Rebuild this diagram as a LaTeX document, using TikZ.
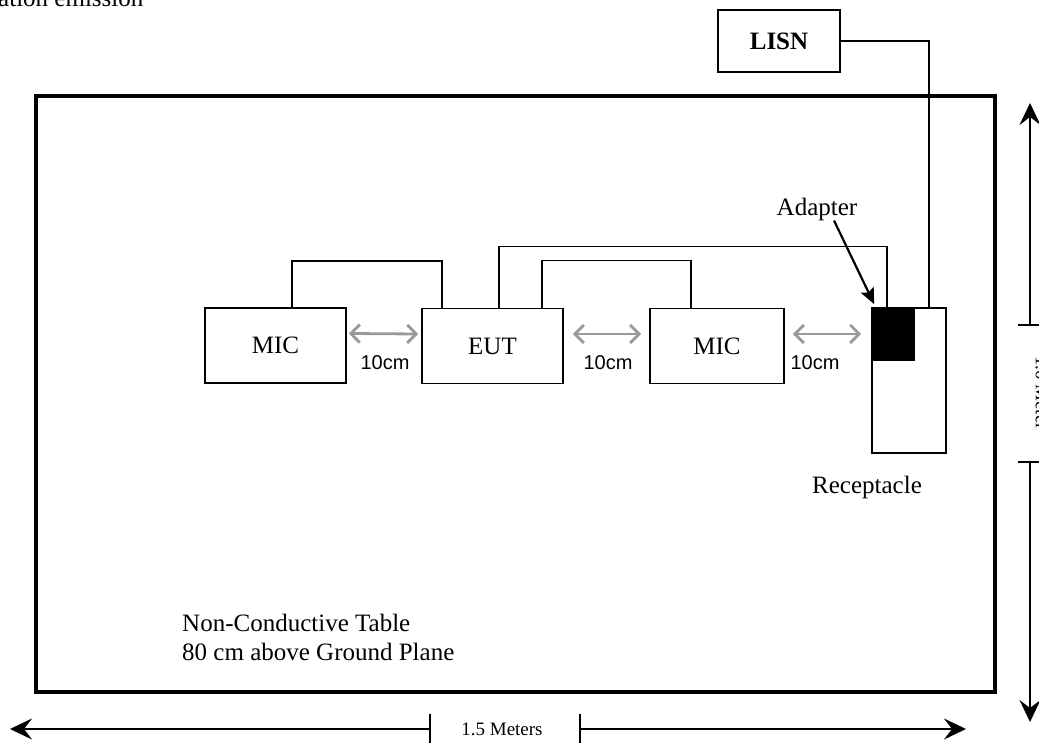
\documentclass[tikz,border=0pt]{standalone}
\usepackage{fontspec}
\setmainfont{Liberation Serif}
\newfontfamily\arialfont{Liberation Sans}
\usetikzlibrary{arrows.meta}

\begin{document}
\begin{tikzpicture}
  [x=1pt,y=-1pt,
  every node/.style={font=\fontsize{25}{29}\selectfont,inner sep=0pt},
  box/.style={draw,line width=1.6pt,minimum width=141pt,minimum height=75pt},
  cable/.style={line width=1.6pt},
  gap/.style={draw=black!40,line width=2.8pt,{Straight Barb[length=9pt,width=18pt]}-{Straight Barb[length=9pt,width=18pt]}},
  small/.style={font=\arialfont\fontsize{20}{24}\selectfont},
  pointer/.style={line width=2.2pt,-{Stealth[length=16pt,width=14pt,inset=3pt]}},
  dim/.style={line width=1.6pt,-{Stealth[length=22pt,width=21pt,inset=8pt]}},
  tick/.style={line width=1.6pt},
  ]
  \useasboundingbox (0,0) rectangle (1039,743);

  \node[anchor=base west] (title) at (-2,7) {ation emission};

  % Tisch
  \draw[line width=3.5pt] (36,96) rectangle (995,692);

  \node[box] (mic1) at (275.5,345.5) {MIC};
  \node[box] (eut) at (492.5,346) {EUT};
  \node[box,minimum width=134pt] (mic2) at (717,346) {MIC};
  \node[box,minimum width=74pt,minimum height=145pt] (recept) at (909,380.5) {};
  \node[fill=black,minimum width=44pt,minimum height=54pt,anchor=north west] (adapter) at (recept.north west) {};
  \node[box,minimum width=122pt,minimum height=62pt,font=\bfseries\fontsize{25}{29}\selectfont] (lisn) at (779,41) {LISN};

  \node (adaptlbl) at (817,209) {Adapter};
  \node (receptlbl) at (867,487) {Receptacle};
  \node[anchor=base west] (tablelbl) at (182,631) {Non-Conductive Table};
  \node[anchor=base west] (planelbl) at (182,660) {80 cm above Ground Plane};

  % Kabel
  \draw[cable] ([xshift=88pt]mic1.north west) -- ++(0,-46) -| ([xshift=21pt]eut.north west);
  \draw[cable] ([xshift=78pt]eut.north west) -- ++(0,-61) -| ([xshift=16pt]adapter.north west);
  \draw[cable] ([xshift=121pt]eut.north west) -- ++(0,-47) -| ([xshift=42pt]mic2.north west);
  \draw[cable] (lisn.east) -| ([xshift=58pt]recept.north west);
  \draw[pointer] ([xshift=17pt]adaptlbl.south) -- ([shift={(3,-3)}]adapter.north west);

  % Abstaende
  \draw[gap] ([shift={(2,-12)}]mic1.east) -- ([shift={(-3,-12)}]eut.west);
  \draw[gap] ([shift={(9,-12)}]eut.east) -- ([shift={(-8,-12)}]mic2.west);
  \coordinate (g3) at ([shift={(8,-12)}]mic2.east);
  \draw[gap] (g3) -- ([xshift=-10pt]g3 -| recept.west);
  \node[small] (gap1) at (385,363) {10cm};
  \node[small] (gap2) at (608,363) {10cm};
  \node[small] (gap3) at (815,363) {10cm};

  % Masse
  \node[font=\fontsize{19}{23}\selectfont] (hdim) at (502,729) {1.5 Meters};
  \coordinate (hleft) at (430,729);
  \coordinate (hright) at (580,729);
  \draw[tick] (430,714) -- (430,745);
  \draw[tick] (580,714) -- (580,745);
  \draw[dim] (hleft) -- (10,729);
  \draw[dim] (hright) -- (966,729);

  \node[font=\fontsize{19}{23}\selectfont,rotate=-90] (vdim) at (1042,393) {1.0 Meter};
  \coordinate (vtop) at (1030,325);
  \coordinate (vbottom) at (1030,462);
  \draw[tick] (1018,325) -- (1045,325);
  \draw[tick] (1018,462) -- (1045,462);
  \draw[dim] (vtop) -- (1030,103);
  \draw[dim] (vbottom) -- (1030,722);
\end{tikzpicture}
\end{document}
